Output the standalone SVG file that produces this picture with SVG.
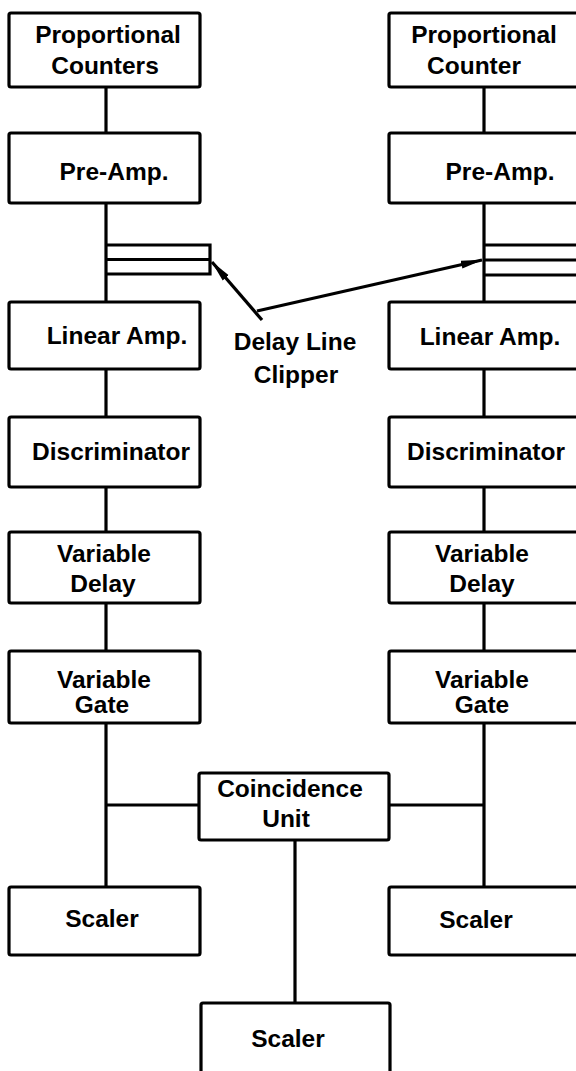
<svg xmlns="http://www.w3.org/2000/svg" width="576" height="1071" viewBox="0 0 576 1071">
<style>
.box{fill:#fff;stroke:#000;stroke-width:3.2;}
.ln{stroke:#000;stroke-width:3.2;fill:none;}
text{font-family:"Liberation Sans",Arial,sans-serif;font-weight:bold;font-size:24.5px;fill:#000;text-anchor:middle;}
</style>
<defs>
<marker id="ah" viewBox="0 0 22 10" refX="21" refY="5" markerWidth="22" markerHeight="10" markerUnits="userSpaceOnUse" orient="auto">
<path d="M0,1 L22,5 L0,9 Z" fill="#000"/>
</marker>
</defs>
<rect width="576" height="1071" fill="#fff"/>
<g id="connectors">
<line class="ln" x1="106" y1="87" x2="106" y2="133"/>
<line class="ln" x1="106" y1="203" x2="106" y2="302"/>
<line class="ln" x1="106" y1="369" x2="106" y2="417"/>
<line class="ln" x1="106" y1="487" x2="106" y2="532"/>
<line class="ln" x1="106" y1="603" x2="106" y2="651"/>
<line class="ln" x1="106" y1="723" x2="106" y2="887"/>
<line class="ln" x1="106" y1="805" x2="199" y2="805"/>
<line class="ln" x1="484" y1="87" x2="484" y2="133"/>
<line class="ln" x1="484" y1="203" x2="484" y2="302"/>
<line class="ln" x1="484" y1="369" x2="484" y2="417"/>
<line class="ln" x1="484" y1="487" x2="484" y2="532"/>
<line class="ln" x1="484" y1="603" x2="484" y2="651"/>
<line class="ln" x1="484" y1="723" x2="484" y2="887"/>
<line class="ln" x1="389" y1="805" x2="484" y2="805"/>
<line class="ln" x1="295" y1="840" x2="295" y2="1003"/>
<path class="ln" d="M106,245 H210 V274 H106 M106,259.5 H210"/>
<path class="ln" d="M484,245 H580 M484,260 H580 M484,275 H580"/>
<line class="ln" x1="262" y1="320" x2="212" y2="262" marker-end="url(#ah)"/>
<line class="ln" x1="257" y1="311" x2="482" y2="260" marker-end="url(#ah)"/>
</g>
<g id="n_pc_left"><rect class="box" x="9" y="13" width="191" height="74" rx="2"/><text x="108" y="43">Proportional</text><text x="105" y="74">Counters</text></g>
<g id="n_preamp_left"><rect class="box" x="9" y="133" width="191" height="70" rx="2"/><text x="114" y="180">Pre-Amp.</text></g>
<g id="n_linamp_left"><rect class="box" x="9" y="302" width="191" height="67" rx="2"/><text x="117" y="344">Linear Amp.</text></g>
<g id="n_disc_left"><rect class="box" x="9" y="417" width="191" height="70" rx="2"/><text x="111" y="460">Discriminator</text></g>
<g id="n_vdelay_left"><rect class="box" x="9" y="532" width="191" height="71" rx="2"/><text x="104" y="562">Variable</text><text x="103" y="592">Delay</text></g>
<g id="n_vgate_left"><rect class="box" x="9" y="651" width="191" height="72" rx="2"/><text x="104" y="688">Variable</text><text x="102" y="713">Gate</text></g>
<g id="n_scaler_left"><rect class="box" x="9" y="887" width="191" height="68" rx="2"/><text x="102" y="927">Scaler</text></g>
<g id="n_pc_right"><rect class="box" x="389" y="13" width="195" height="74" rx="2"/><text x="484" y="43">Proportional</text><text x="474" y="74">Counter</text></g>
<g id="n_preamp_right"><rect class="box" x="389" y="133" width="195" height="70" rx="2"/><text x="500" y="180">Pre-Amp.</text></g>
<g id="n_linamp_right"><rect class="box" x="389" y="302" width="195" height="67" rx="2"/><text x="490" y="345">Linear Amp.</text></g>
<g id="n_disc_right"><rect class="box" x="389" y="417" width="195" height="70" rx="2"/><text x="486" y="460">Discriminator</text></g>
<g id="n_vdelay_right"><rect class="box" x="389" y="532" width="195" height="71" rx="2"/><text x="482" y="562">Variable</text><text x="482" y="592">Delay</text></g>
<g id="n_vgate_right"><rect class="box" x="389" y="651" width="195" height="72" rx="2"/><text x="482" y="688">Variable</text><text x="482" y="713">Gate</text></g>
<g id="n_scaler_right"><rect class="box" x="389" y="887" width="195" height="68" rx="2"/><text x="476" y="928">Scaler</text></g>
<g id="n_coinc"><rect class="box" x="199" y="773" width="190" height="67" rx="2"/><text x="290" y="797">Coincidence</text><text x="286" y="827">Unit</text></g>
<g id="n_scaler_bottom"><rect class="box" x="201" y="1003" width="189" height="80" rx="2"/><text x="288" y="1047">Scaler</text></g>
<g id="label_delay"><text x="295" y="350">Delay Line</text><text x="296" y="383">Clipper</text></g>
</svg>
